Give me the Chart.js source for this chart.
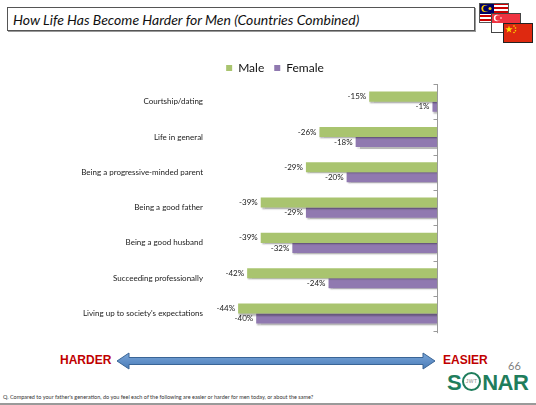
<!DOCTYPE html>
<html>
<head>
<meta charset="utf-8">
<script src="https://cdn.jsdelivr.net/npm/chart.js@4"></script>
<style>
  html, body { margin: 0; padding: 0; background: #fff; }
  body { width: 536px; height: 405px; position: relative; overflow: hidden; font-family: 'Lato', sans-serif; }
  .title-box {
    position: absolute; left: 7px; top: 7px; width: 466px; height: 22px;
    border: 1px solid #555; box-shadow: 1px 1px 0 #999;
  }
  .title-box span {
    position: absolute; left: 5px; top: 3px; font-style: italic; font-size: 14px; color: #111; white-space: nowrap;
  }
  .flag { position: absolute; }
  #chartWrap { position: absolute; left: 0; top: 52px; width: 550px; height: 292px; }
  .word { position: absolute; font-family: 'Liberation Sans', sans-serif; font-weight: bold; font-size: 12px; color: #c00000; }
  .page-no { position: absolute; left: 508px; top: 359px; font-size: 11px; color: #7f7f7f; }
  .sonar { position: absolute; left: 447px; top: 372px; color: #1f7d5c; font-family: 'Liberation Sans', sans-serif;
    font-weight: bold; font-size: 22px; line-height: 22px; white-space: nowrap; letter-spacing: -0.5px; }
  .sonar .o { display: inline-block; width: 15px; height: 15px; border: 2.5px solid #1f7d5c; border-radius: 50%;
    vertical-align: -1px; position: relative; margin: 0 1px; }
  .sonar .o i { position: absolute; left: 0; right: 0; top: 4px; font-style: normal; font-weight: normal;
    font-size: 5px; line-height: 6px; color: #888; text-align: center; letter-spacing: 0.5px; }
  .footnote { position: absolute; left: 3px; top: 394px; font-size: 5.5px; color: #333; white-space: nowrap; }
  .bottom-line { position: absolute; left: 0; top: 403px; width: 536px; height: 2px; background: #9a9a9a; }
</style>
</head>
<body>
<div class="title-box"><span>How Life Has Become Harder for Men (Countries Combined)</span></div>

<!-- Malaysia -->
<svg class="flag" style="left:479px;top:3px" width="30" height="20" viewBox="0 0 30 20">
  <rect x="0" y="0" width="30" height="20" fill="#fff"/>
  <rect x="0" y="0" width="30" height="2" fill="#cc0001"/>
  <rect x="0" y="4" width="30" height="2" fill="#cc0001"/>
  <rect x="0" y="8" width="30" height="2" fill="#cc0001"/>
  <rect x="0" y="12" width="30" height="2" fill="#cc0001"/>
  <rect x="0" y="16" width="30" height="2" fill="#cc0001"/>
  <rect x="0" y="0" width="15" height="11" fill="#010066"/>
  <circle cx="6" cy="5.5" r="3.6" fill="#fc0"/>
  <circle cx="7.2" cy="5.5" r="3" fill="#010066"/>
  <circle cx="11" cy="5.5" r="1.5" fill="#fc0"/>
  <rect x="0.5" y="0.5" width="29" height="19" fill="none" stroke="#555" stroke-width="1"/>
</svg>
<!-- Singapore -->
<svg class="flag" style="left:491px;top:13px" width="30" height="20" viewBox="0 0 30 20">
  <rect x="0" y="0" width="30" height="10" fill="#ef3340"/>
  <rect x="0" y="10" width="30" height="10" fill="#fff"/>
  <circle cx="6" cy="5" r="3.2" fill="#fff"/>
  <circle cx="7.2" cy="5" r="2.8" fill="#ef3340"/>
  <circle cx="10" cy="5" r="0.8" fill="#fff"/>
  <rect x="0.5" y="0.5" width="29" height="19" fill="none" stroke="#444" stroke-width="1"/>
</svg>
<!-- China -->
<svg class="flag" style="left:503px;top:23px" width="30" height="20" viewBox="0 0 30 20">
  <rect x="0" y="0" width="30" height="20" fill="#de2910"/>
  <polygon points="6,2.5 6.9,5.2 9.7,5.2 7.4,6.9 8.3,9.6 6,7.9 3.7,9.6 4.6,6.9 2.3,5.2 5.1,5.2" fill="#ffde00"/>
  <circle cx="11" cy="3" r="0.8" fill="#ffde00"/>
  <circle cx="12.5" cy="5" r="0.8" fill="#ffde00"/>
  <circle cx="12.5" cy="7.7" r="0.8" fill="#ffde00"/>
  <circle cx="11" cy="9.5" r="0.8" fill="#ffde00"/>
  <rect x="0.5" y="0.5" width="29" height="19" fill="none" stroke="#222" stroke-width="1"/>
</svg>

<div id="chartWrap"><canvas id="harderChart"></canvas></div>

<div class="word" style="left:60px;top:353px">HARDER</div>
<svg style="position:absolute;left:114px;top:350px" width="326" height="22">
  <defs>
    <linearGradient id="arrowFill" x1="0" y1="0" x2="0" y2="1">
      <stop offset="0" stop-color="#79a5d8"/>
      <stop offset="1" stop-color="#4a7cb8"/>
    </linearGradient>
  </defs>
  <polygon points="3,11 15,3 15,7.5 309,7.5 309,3 321,11 309,19 309,14.5 15,14.5 15,19"
           fill="url(#arrowFill)" stroke="#3a6596" stroke-width="1"/>
</svg>
<div class="word" style="left:443px;top:353px">EASIER</div>
<div class="page-no">66</div>
<div class="sonar">S<span class="o"><i>JWT</i></span>NAR</div>
<div class="footnote">Q. Compared to your father's generation, do you feel each of the following are easier or harder for men today, or about the same?</div>
<div class="bottom-line"></div>

<script>
const categories = [
    'Courtship/dating',
    'Life in general',
    'Being a progressive-minded parent',
    'Being a good father',
    'Being a good husband',
    'Succeeding professionally',
    "Living up to society's expectations"
];
const maleValues = [-15, -26, -29, -39, -39, -42, -44];
const femaleValues = [-1, -18, -20, -29, -32, -24, -40];
const seriesNames = ['Male', 'Female'];

// shadow under the bars, then the value labels left of each bar
const barExtras = {
    id: 'barExtras',
    beforeDatasetsDraw(chart) {
        const ctx = chart.ctx;
        ctx.save();
        ctx.shadowColor = 'rgba(0, 0, 0, 0.28)';
        ctx.shadowOffsetX = 1;
        ctx.shadowOffsetY = 2;
        ctx.shadowBlur = 1.5;
    },
    afterDatasetsDraw(chart) {
        const ctx = chart.ctx;
        ctx.restore();
        ctx.save();
        ctx.font = '8px Lato';
        ctx.fillStyle = '#1a1a1a';
        ctx.textAlign = 'right';
        ctx.textBaseline = 'middle';
        chart.data.datasets.forEach((ds, di) => {
            chart.getDatasetMeta(di).data.forEach((bar, i) => {
                ctx.fillText(ds.data[i] + '%', bar.x - 3, bar.y);
            });
        });
        ctx.restore();
    }
};

// zero line with small ticks between categories
const zeroAxis = {
    id: 'zeroAxis',
    afterDraw(chart) {
        const ctx = chart.ctx;
        const area = chart.chartArea;
        const y = chart.scales.y;
        const x0 = Math.round(chart.scales.x.getPixelForValue(0)) + 0.5;
        ctx.save();
        ctx.strokeStyle = '#9a9a9a';
        ctx.lineWidth = 1;
        ctx.beginPath();
        ctx.moveTo(x0, area.top);
        ctx.lineTo(x0, area.bottom + 2);
        for (let i = 0; i <= categories.length; i++) {
            const py = Math.round(y.getPixelForValue(i - 0.5)) + 0.5;
            ctx.moveTo(x0 - 4, py);
            ctx.lineTo(x0, py);
        }
        ctx.stroke();
        ctx.restore();
    }
};

const ctx = document.getElementById('harderChart').getContext('2d');
new Chart(ctx, {
    type: 'bar',
    data: {
        labels: categories,
        datasets: [{
            label: seriesNames[0],
            data: maleValues,
            backgroundColor: '#a9c46f',
            borderWidth: 0
        }, {
            label: seriesNames[1],
            data: femaleValues,
            backgroundColor: '#9079b0',
            borderWidth: 0
        }]
    },
    options: {
        indexAxis: 'y',
        responsive: true,
        maintainAspectRatio: false,
        animation: false,
        devicePixelRatio: 1,
        layout: { padding: 0 },
        datasets: {
            bar: { categoryPercentage: 0.57, barPercentage: 1.0 }
        },
        scales: {
            x: {
                min: -50,
                max: 0,
                display: false
            },
            y: {
                grid: { display: false, drawTicks: false },
                border: { display: false },
                ticks: {
                    padding: 8,
                    color: '#1a1a1a',
                    font: { family: 'Lato', size: 8 }
                },
                afterFit(scale) { scale.width = 211; }
            },
            // empty right-hand axis, only to keep room right of the zero line
            yRight: {
                type: 'category',
                position: 'right',
                grid: { display: false, drawTicks: false },
                border: { display: false },
                ticks: { display: false },
                afterFit(scale) { scale.width = 113; }
            }
        },
        plugins: {
            legend: {
                position: 'top',
                labels: {
                    boxWidth: 6,
                    boxHeight: 6,
                    padding: 10,
                    color: '#111',
                    font: { family: 'Lato', size: 12 }
                }
            },
            tooltip: { enabled: false }
        }
    },
    plugins: [barExtras, zeroAxis]
});
</script>
</body>
</html>
